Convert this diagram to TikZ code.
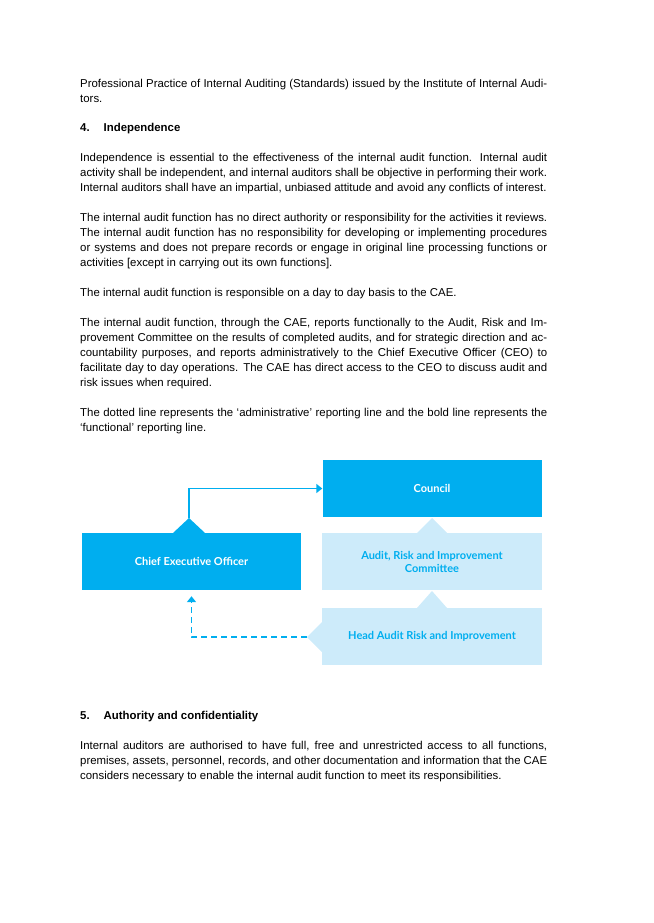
\documentclass[tikz,border=0pt]{standalone}
\usepackage{fontspec}
\setmainfont{Liberation Sans}
\newfontfamily\boxfont{Lato}
\usetikzlibrary{arrows.meta}
\definecolor{cyanbox}{HTML}{00AEEF}
\definecolor{paleblue}{HTML}{CDEBFA}
\tikzset{
  para/.style={anchor=north west,inner sep=0pt,text width=467pt,align=justify,
    font=\fontsize{11.4}{15}\selectfont},
  heading/.style={anchor=north west,inner sep=0pt,font=\fontsize{11.4}{15}\selectfont\bfseries},
  darkbox/.style={fill=cyanbox,text=white,font=\boxfont\fontsize{11}{13}\selectfont\bfseries,
    minimum width=219pt,minimum height=57pt,inner sep=0pt,align=center},
  lightbox/.style={darkbox,fill=paleblue,text=cyanbox,minimum width=220pt}
}
\begin{document}
\begin{tikzpicture}[x=1pt,y=-1pt]
  \useasboundingbox (0,0) rectangle (653,923);
  % text above the chart
  \node[para] (p0) at (80,79) {Professional Practice of Internal Auditing (Standards) issued by the Institute of Internal Auditors.};
  \node[heading] (h4) at (80,123) {4.\hspace{14pt}Independence};
  \node[para] (p1) at (80,153) {Independence is essential to the effectiveness of the internal audit function. Internal audit activity shall be independent, and internal auditors shall be objective in performing their work. Internal auditors shall have an impartial, unbiased attitude and avoid any conflicts of interest.};
  \node[para] (p2) at (80,213) {The internal audit function has no direct authority or responsibility for the activities it reviews. The internal audit function has no responsibility for developing or implementing procedures or systems and does not prepare records or engage in original line processing functions or activities [except in carrying out its own functions].};
  \node[para] (p3) at (80,288) {The internal audit function is responsible on a day to day basis to the CAE.};
  \node[para] (p4) at (80,318) {The internal audit function, through the CAE, reports functionally to the Audit, Risk and Improvement Committee on the results of completed audits, and for strategic direction and accountability purposes, and reports administratively to the Chief Executive Officer (CEO) to facilitate day to day operations. The CAE has direct access to the CEO to discuss audit and risk issues when required.};
  \node[para] (p5) at (80,408) {The dotted line represents the `administrative' reporting line and the bold line represents the `functional' reporting line.};
  % chart
  \node[darkbox] (council) at (432,488.5) {Council};
  \node[darkbox] (ceo) at (191.5,561.5) {Chief Executive Officer};
  \node[lightbox] (aric) at (432,561.5) {Audit, Risk and Improvement\\Committee};
  \node[lightbox] (head) at (432,636.5) {Head Audit Risk and Improvement};
  \fill[cyanbox] (173,533) -- (189,518) -- (205,533) -- cycle;
  \fill[paleblue] (417,533) -- (432,518) -- (447,533) -- cycle;
  \fill[paleblue] (417,608) -- (432,591) -- (447,608) -- cycle;
  \fill[paleblue] (322,622) -- (307,637) -- (322,652) -- cycle;
  \coordinate (ceotip) at (189,518);
  \coordinate (headtip) at (307,637);
  \draw[cyanbox,line width=1.5pt,-{Triangle[length=6pt,width=9pt]}]
    (ceotip) |- (council.west);
  \draw[cyanbox,line width=1.5pt,dash pattern=on 6pt off 4pt,-{Triangle[length=6pt,width=9pt]}]
    (headtip) -| ([yshift=-6pt]ceo.south);
  % text below the chart
  \node[heading] (h5) at (80,711) {5.\hspace{14pt}Authority and confidentiality};
  \node[para] (p6) at (80,741) {Internal auditors are authorised to have full, free and unrestricted access to all functions, premises, assets, personnel, records, and other documentation and information that the CAE considers necessary to enable the internal audit function to meet its responsibilities.};
\end{tikzpicture}
\end{document}
